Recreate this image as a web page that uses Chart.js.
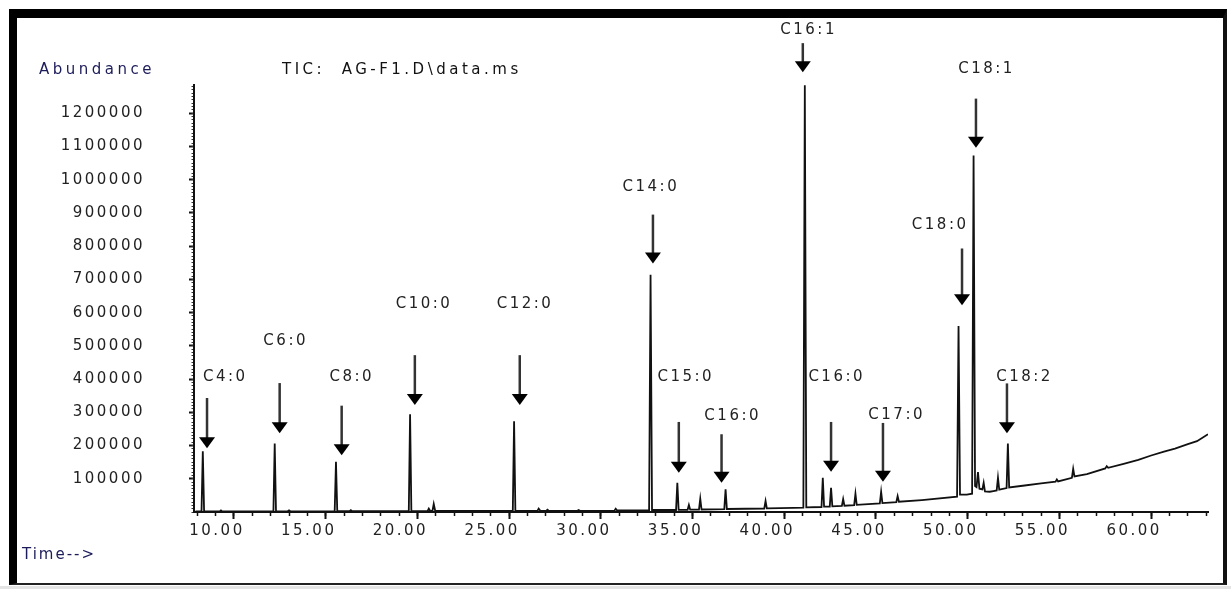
<!DOCTYPE html>
<html>
<head>
<meta charset="utf-8">
<script src="https://cdn.jsdelivr.net/npm/chart.js@4.4.0/dist/chart.umd.min.js"></script>
<style>
  html, body { margin: 0; padding: 0; background: #fff; }
  #frame {
    position: absolute; left: 9px; top: 9px; width: 1218px; height: 576px;
    box-sizing: border-box;
    border-top: 9px solid #000; border-left: 8px solid #000;
    border-right: 4px solid #111; border-bottom: 2px solid #222;
  }
  #strip { position: absolute; left: 0; top: 586px; width: 1231px; height: 3px; background: #e4e4e4; }
  #c { position: absolute; left: 0; top: 0; }
</style>
</head>
<body>
<div id="frame"></div>
<div id="strip"></div>
<canvas id="c" width="1231" height="589"></canvas>
<script>
// retention time (min) / abundance
const times = [
    7.90, 8.23, 8.30, 8.37, 9.22, 9.29, 9.36,
    12.15, 12.22, 12.29, 12.93, 13.00, 13.07,
    15.49, 15.56, 15.63, 16.30, 16.37, 16.44,
    19.53, 19.60, 19.67, 20.55, 20.62, 20.70, 20.82, 20.89, 20.97,
    25.20, 25.27, 25.34, 26.54, 26.61, 26.70, 27.02, 27.09, 27.17,
    28.72, 28.79, 28.86, 30.74, 30.81, 30.89,
    32.63, 32.71, 32.79, 34.10, 34.17, 34.24, 34.73, 34.80, 34.87,
    35.35, 35.42, 35.49, 36.73, 36.80, 36.87, 38.91, 38.98, 39.05,
    40.50, 41.04, 41.12, 41.20, 42.03, 42.10, 42.17, 42.48, 42.55, 42.62,
    43.14, 43.21, 43.28, 43.81, 43.88, 43.95, 45.21, 45.28, 45.35,
    46.11, 46.18, 46.25, 47.50, 49.42, 49.50, 49.58, 49.95,
    50.24, 50.32, 50.40, 50.48, 50.56, 50.64, 50.80, 50.87, 50.94,
    51.20, 51.40, 51.58, 51.65, 51.72, 52.12, 52.19, 52.26,
    53.00, 54.00, 54.79, 54.86, 54.93, 55.68, 55.75, 55.82,
    56.50, 57.50, 57.58, 57.66, 58.50, 59.30, 60.00, 60.70, 61.30, 62.00, 62.50, 63.10
];
const abundance = [
    1500, 1500, 183000, 2000, 1800, 5000, 1800,
    1800, 206000, 2000, 2000, 5000, 2000,
    2000, 151000, 2200, 2200, 5500, 2200,
    2400, 294000, 2600, 2600, 10000, 3000, 3000, 24000, 3000,
    3000, 273000, 3200, 3200, 10000, 3500, 3500, 7000, 3500,
    3600, 6000, 3600, 4000, 10000, 4500,
    5000, 714000, 6000, 6000, 88000, 6500, 6800, 21000, 7000,
    7200, 40000, 7500, 8500, 68000, 9000, 10500, 33000, 11000,
    12500, 13000, 1284000, 14000, 15000, 103000, 16000, 16500, 73000, 17000,
    18500, 39000, 19000, 20500, 55000, 21500, 26000, 61000, 27000,
    30000, 48000, 31000, 36000, 46000, 560000, 52000, 52000,
    55000, 1073000, 78000, 75000, 120000, 70000, 68000, 88000, 62000,
    61000, 63000, 65000, 103000, 67000, 72000, 206000, 74000,
    79000, 86000, 91000, 98000, 92000, 103000, 130000, 107000,
    114000, 131000, 138000, 133000, 145000, 157000, 170000, 182000, 191000, 204000, 213000, 234000
];

// axis tick values
const xTicks = [10, 15, 20, 25, 30, 35, 40, 45, 50, 55, 60];
const yTicks = [100000, 200000, 300000, 400000, 500000, 600000, 700000, 800000, 900000, 1000000, 1100000, 1200000];

// peak annotations: label, arrow (time, top, tip), label centre (time, abundance)
const annotLabels = ['C4:0', 'C6:0', 'C8:0', 'C10:0', 'C12:0', 'C14:0', 'C15:0', 'C16:0', 'C16:1', 'C16:0', 'C17:0', 'C18:0', 'C18:1', 'C18:2'];
const arrowTimes  = [8.53, 12.49, 15.87, 19.86, 25.58, 32.84, 34.25, 36.58, 41.01, 42.55, 45.38, 49.69, 50.45, 52.14];
const arrowTops   = [343000, 388000, 320000, 472000, 472000, 895000, 271000, 234000, 1411000, 271000, 268000, 793000, 1244000, 387000];
const arrowTips   = [192000, 237000, 171000, 322000, 322000, 748000, 118000, 88000, 1323000, 121000, 91000, 622000, 1096000, 237000];
const labelTimes  = [9.46, 12.75, 16.35, 20.29, 25.80, 32.66, 34.56, 37.12, 41.26, 42.79, 46.06, 48.43, 50.96, 53.03];
const labelLevels = [406000, 514000, 406000, 627000, 625000, 978000, 405000, 289000, 1449000, 407000, 292000, 863000, 1332000, 405000];

const X_MIN = 7.82, X_MAX = 63.1, Y_MAX = 1285000;
const FONT = { family: '"DejaVu Sans", sans-serif', size: 15 };

// minor tick positions: every minute / every 10000 counts
function minorTicks(from, to, step) {
    const out = [];
    for (let v = Math.ceil(from / step) * step; v <= to; v += step) out.push({ value: v });
    return out;
}

const annotPlugin = {
    id: 'annot',
    beforeDraw(chart) {
        // wide spacing like the ChemStation screen font
        chart.ctx.letterSpacing = '2.5px';
    },
    afterDraw(chart) {
        const { ctx } = chart;
        const x = chart.scales.x, y = chart.scales.y;
        ctx.save();
        ctx.font = '15px "DejaVu Sans"';
        ctx.letterSpacing = '2.5px';
        ctx.textAlign = 'center';
        ctx.textBaseline = 'middle';
        annotLabels.forEach((lab, i) => {
            const ax = x.getPixelForValue(arrowTimes[i]);
            const y0 = y.getPixelForValue(arrowTops[i]);
            const y1 = y.getPixelForValue(arrowTips[i]);
            ctx.strokeStyle = '#333';
            ctx.lineWidth = 2.5;
            ctx.beginPath();
            ctx.moveTo(ax, y0);
            ctx.lineTo(ax, y1 - 10);
            ctx.stroke();
            ctx.fillStyle = '#000';
            ctx.beginPath();
            ctx.moveTo(ax - 8, y1 - 11);
            ctx.lineTo(ax + 8, y1 - 11);
            ctx.lineTo(ax, y1);
            ctx.closePath();
            ctx.fill();
            ctx.fillStyle = '#222';
            ctx.fillText(lab, x.getPixelForValue(labelTimes[i]) + 1.25, y.getPixelForValue(labelLevels[i]));
        });

        // header texts
        ctx.textAlign = 'left';
        ctx.textBaseline = 'alphabetic';
        ctx.letterSpacing = '3.5px';
        ctx.fillStyle = '#1c1c5a';
        ctx.fillText('Abundance', 39, 74);
        ctx.fillStyle = '#111';
        ctx.fillText('TIC:  AG-F1.D\\data.ms', 282, 74);
        ctx.letterSpacing = '2px';
        ctx.fillStyle = '#1c1c5a';
        ctx.fillText('Time-->', 22, 559);
        ctx.restore();
    }
};

new Chart(document.getElementById('c'), {
    type: 'line',
    data: {
        datasets: [{
            data: times.map((t, i) => ({ x: t, y: abundance[i] })),
            borderColor: '#111',
            borderWidth: 1.8,
            pointRadius: 0,
            tension: 0,
            fill: false,
            xAxisID: 'x',
            yAxisID: 'y'
        }]
    },
    options: {
        responsive: false,
        devicePixelRatio: 1,
        animation: false,
        events: [],
        layout: { padding: { top: 85, right: 23, bottom: 0, left: 0 } },
        plugins: { legend: { display: false }, tooltip: { enabled: false } },
        scales: {
            x: {
                type: 'linear', position: 'bottom', min: X_MIN, max: X_MAX, weight: 1,
                afterBuildTicks: s => { s.ticks = xTicks.map(v => ({ value: v })); },
                ticks: {
                    autoSkip: false, maxRotation: 0,
                    callback: v => v.toFixed(2),
                    labelOffset: -17, padding: 3, color: '#222', font: FONT
                },
                grid: { drawOnChartArea: false, tickLength: 7, tickWidth: 2, tickColor: '#111' },
                border: { color: '#111', width: 2 },
                afterFit: s => { s.height = 77; }
            },
            xMinor: {
                type: 'linear', position: 'bottom', min: X_MIN, max: X_MAX, weight: 0,
                afterBuildTicks: s => { s.ticks = minorTicks(X_MIN, X_MAX, 1); },
                ticks: { display: false },
                grid: { drawOnChartArea: false, tickLength: 4, tickWidth: 1.5, tickColor: '#111' },
                border: { display: false },
                afterFit: s => { s.height = 0; }
            },
            y: {
                type: 'linear', position: 'left', min: 0, max: Y_MAX, weight: 1,
                afterBuildTicks: s => { s.ticks = yTicks.map(v => ({ value: v })); },
                ticks: {
                    autoSkip: false,
                    callback: v => String(v),
                    padding: 44, color: '#222', font: FONT
                },
                grid: { drawOnChartArea: false, tickLength: 5, tickWidth: 2, tickColor: '#111' },
                border: { color: '#111', width: 2 },
                afterFit: s => { s.width = 194; }
            },
            yMinor: {
                type: 'linear', position: 'left', min: 0, max: Y_MAX, weight: 0,
                afterBuildTicks: s => { s.ticks = minorTicks(0, Y_MAX, 10000); },
                ticks: { display: false },
                grid: { drawOnChartArea: false, tickLength: 2.5, tickWidth: 1, tickColor: '#333' },
                border: { display: false },
                afterFit: s => { s.width = 0; }
            }
        }
    },
    plugins: [annotPlugin]
});
</script>
</body>
</html>
